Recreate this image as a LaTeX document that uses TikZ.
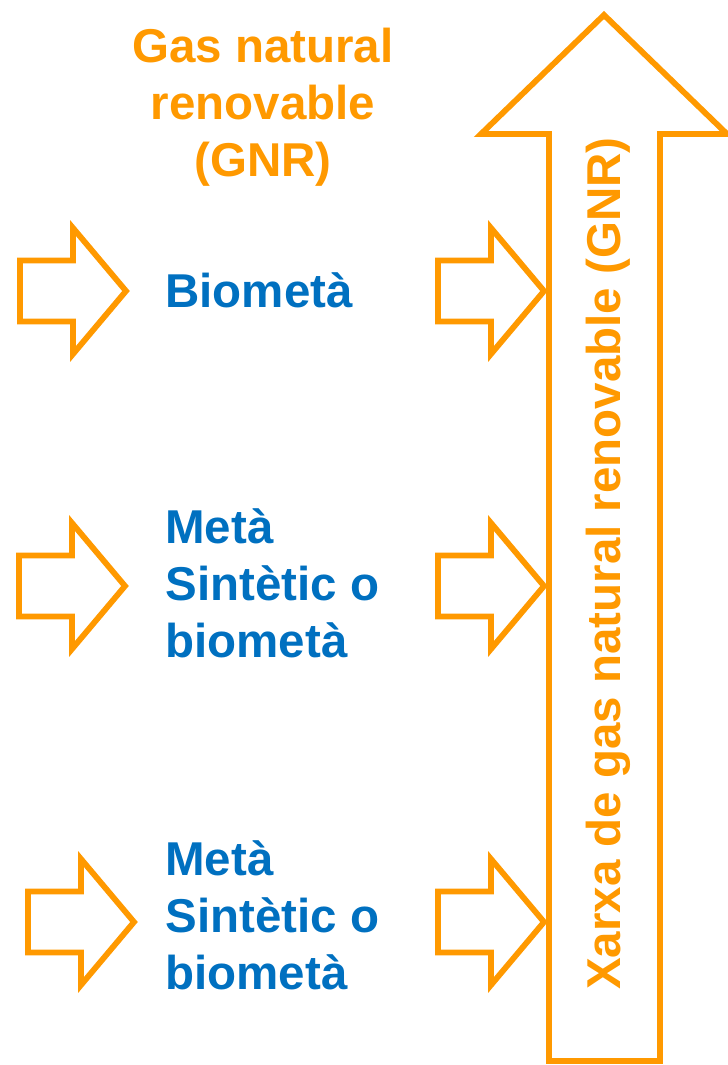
\documentclass[tikz,border=0pt]{standalone}
\usepackage{fontspec}
\setmainfont{Liberation Sans}
\usepackage{tikz}

\definecolor{gnrorange}{HTML}{FF9900}
\definecolor{gnrblue}{HTML}{0070C0}

\tikzset{
	gnr/.style={draw=gnrorange, line width=3.3pt, line join=miter},
	gnrtext/.style={font=\bfseries\fontsize{0.95cm}{1.14cm}\selectfont, inner sep=0},
	pics/feedarrow/.style={code={
		\draw[gnr] (0,-30.5) -- (53,-30.5) -- (53,-63) -- (106,0) -- (53,63) -- (53,30.5) -- (0,30.5) -- cycle;
	}},
}

\begin{document}
\begin{tikzpicture}[x=0.02cm, y=-0.02cm]
	\useasboundingbox (0,0) rectangle (727,1065);
	% Paths, nodes and arrows:
	\draw[gnr] (549,1061) -- (549,134) -- (481,134) -- (604,15) -- (727,134) -- (660,134) -- (660,1061) -- cycle;
	\node[gnrtext, text=gnrorange, rotate=90, anchor=base] (xarxa) at (620,563.5) {Xarxa de gas natural renovable (GNR)};
	% multi-line nodes sit on the baseline of their last line
	\node[gnrtext, text=gnrorange, align=center, anchor=base] (gnr) at (263,176) {Gas natural\\renovable\\(GNR)};
	\pic at (20,291) {feedarrow};
	\pic at (438,291) {feedarrow};
	\pic at (19,586) {feedarrow};
	\pic at (438,586) {feedarrow};
	\pic at (28,922) {feedarrow};
	\pic at (438,922) {feedarrow};
	\node[gnrtext, text=gnrblue, anchor=base west] (biometa) at (165,307) {Biometà};
	\node[gnrtext, text=gnrblue, align=left, anchor=base west] (sintetic) at (165,657) {Metà\\Sintètic o\\biometà};
	\node[gnrtext, text=gnrblue, align=left, anchor=base west] (sinteticb) at (165,989) {Metà\\Sintètic o\\biometà};
\end{tikzpicture}
\end{document}
